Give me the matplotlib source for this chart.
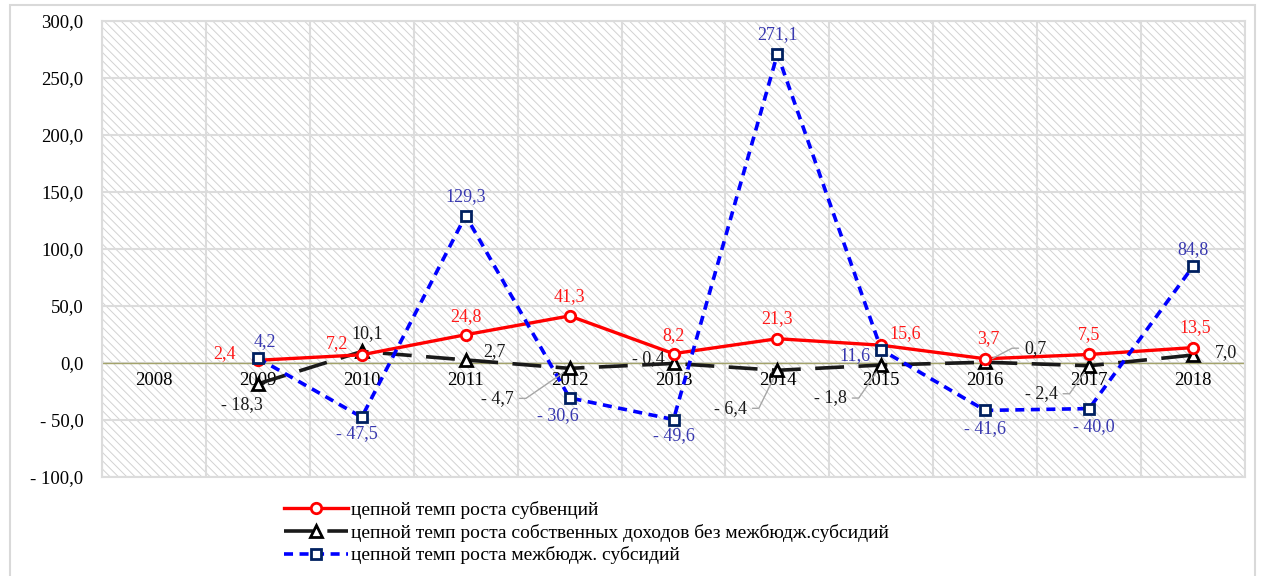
import matplotlib.pyplot as plt
from matplotlib.patches import Rectangle
import numpy as np

plt.rcParams['font.family'] = ['Liberation Serif', 'DejaVu Serif']
plt.rcParams['hatch.linewidth'] = 0.7

years = ['2008', '2009', '2010', '2011', '2012', '2013', '2014', '2015', '2016', '2017', '2018']
subv = [2.4, 7.2, 24.8, 41.3, 8.2, 21.3, 15.6, 3.7, 7.5, 13.5]
own = [-18.3, 10.1, 2.7, -4.7, -0.4, -6.4, -1.8, 0.7, -2.4, 7.0]
subs = [4.2, -47.5, 129.3, -30.6, -49.6, 271.1, 11.6, -41.6, -40.0, 84.8]

names = ['цепной темп роста субвенций',
         'цепной темп роста собственных доходов без межбюдж.субсидий',
         'цепной темп роста межбюдж. субсидий']

# label offsets in pixels (dx, dy) for each point, 2009..2018
off_subv = [(-33, 7), (-25, 11), (0, 18), (0, 19), (0, 18), (0, 20), (24, 12), (3, 20), (0, 20), (2, 20)]
off_own = [(-16, -21), (5, 18), (29, 8), (-72, -30), (-25, 5), (-47, -38), (-51, -33), (50, 14), (-48, -28), (33, 2)]
off_subs = [(7, 17), (-5, -16), (0, 19), (-12, -18), (0, -16), (0, 19), (-26, -6), (0, -18), (5, -18), (0, 17)]
# leaders: index -> side of the label the line leaves from
lead_own = {3: 'r', 5: 'r', 6: 'r', 7: 'l', 8: 'r'}

def fmt(v):
    s = f'{abs(v):.1f}'.replace('.', ',')
    return '- ' + s if v < 0 else s

fig = plt.figure(figsize=(12.61, 5.76), dpi=100)
ax = fig.add_axes([102/1261, 1-477/576, 1143/1261, 456/576])

# frame round the whole chart
fig.patches.append(Rectangle((10/1261, -0.01), 1245/1261, 1-5/576+0.01, transform=fig.transFigure,
                             fill=False, edgecolor='#d9d9d9', lw=1.5))

ax.add_patch(Rectangle((0, 0), 1, 1, transform=ax.transAxes, facecolor='white',
                       edgecolor='#d2d2d2', hatch='\\\\\\\\', lw=0, zorder=0))

ax.set_xlim(-0.5, 10.5)
ax.set_ylim(-100, 300)
ax.set_yticks(np.arange(-100, 301, 50))
ax.set_yticklabels([fmt(v) for v in np.arange(-100, 301, 50)], fontsize=13.5)
ax.set_xticks([])
ax.set_xticks(np.arange(-0.5, 10.6, 1), minor=True)
ax.tick_params(axis='both', which='both', length=0)
ax.tick_params(axis='y', pad=13.5)
ax.grid(True, which='major', axis='y', color='#dcdcdc', lw=1.5, zorder=1)
ax.grid(True, which='minor', axis='x', color='#dcdcdc', lw=1.5, zorder=1)
for s in ax.spines.values():
    s.set_color('#dcdcdc')
    s.set_linewidth(1.5)
ax.axhline(0, color='#a3a36a', lw=1, zorder=2)

for i, y in enumerate(years):
    ax.text(i, -15, y, ha='center', va='center', fontsize=13.5, zorder=3)

x = np.arange(1, 11)
l2, = ax.plot(x, own, color='#1a1a1a', lw=2.6, dashes=(8, 4), marker='^', ms=8,
              mfc='white', mec='black', mew=2, zorder=4, label=names[1])
l1, = ax.plot(x, subv, color='#ff0000', lw=2.4, marker='o', ms=7.5,
              mfc='white', mec='#ff0000', mew=2, zorder=5, label=names[0])
l3, = ax.plot(x, subs, color='#0000ff', lw=2.6, dashes=(2.5, 1.8), marker='s', ms=7.5,
              mfc='white', mec='#002060', mew=2, zorder=6, label=names[2])

for xi, v, o in zip(x, subv, off_subv):
    ax.annotate(fmt(v), (xi, v), xytext=o, textcoords='offset pixels', ha='center', va='center',
                fontsize=13, color='#ff1a1a', zorder=7)
for xi, v, o in zip(x, subs, off_subs):
    ax.annotate(fmt(v), (xi, v), xytext=o, textcoords='offset pixels', ha='center', va='center',
                fontsize=13, color='#3838b0', zorder=7)
for k, (xi, v, o) in enumerate(zip(x, own, off_own)):
    kw = {}
    if k in lead_own:
        side = lead_own[k]
        kw['arrowprops'] = dict(arrowstyle='-', color='#a6a6a6', lw=1,
                                relpos=(1, 0.5) if side == 'r' else (0, 0.5),
                                connectionstyle='arc,angleA=%d,armA=12,angleB=0,armB=0,rad=0' % (0 if side == 'r' else 180),
                                shrinkA=2, shrinkB=6)
    ax.annotate(fmt(v), (xi, v), xytext=o, textcoords='offset pixels', ha='center', va='center',
                fontsize=13, color='#1a1a1a', zorder=7, **kw)

fig.legend(handles=[l1, l2, l3], loc='upper left', bbox_to_anchor=(274/1261, 1-491/576),
           frameon=False, fontsize=14, handlelength=3.3, handletextpad=0.15,
           labelspacing=0.25, borderpad=0)

fig.savefig('out.png', dpi=100)
